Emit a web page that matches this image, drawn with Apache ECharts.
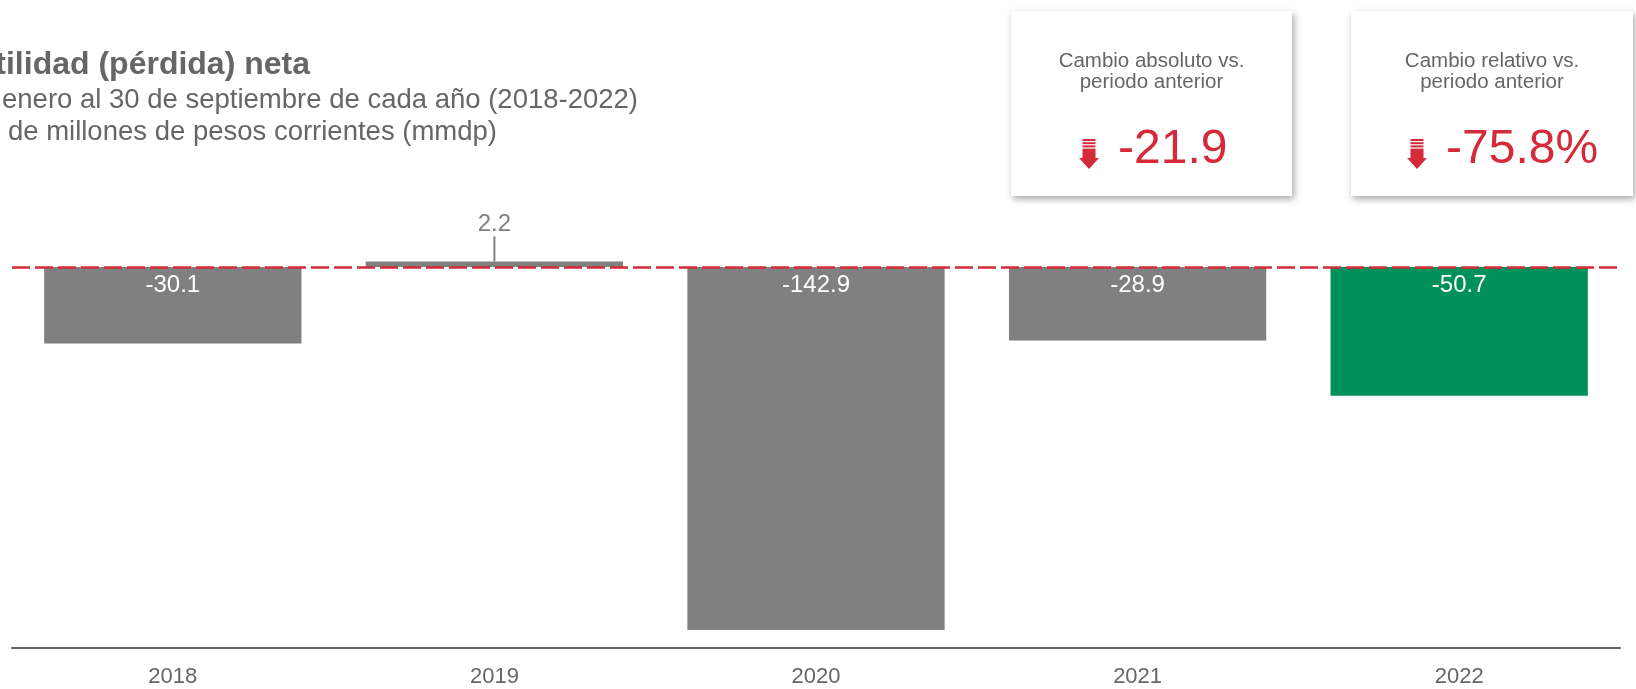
<!DOCTYPE html>
<html>
<head>
<meta charset="utf-8">
<script src="https://cdn.jsdelivr.net/npm/echarts@6/dist/echarts.min.js"></script>
<style>
html,body{margin:0;padding:0;background:#fff;}
#chart{width:1636px;height:689px;}
</style>
</head>
<body>
<div id="chart"></div>
<script>
// ---- data ----
const years = ['2018', '2019', '2020', '2021', '2022'];
const netIncome = [-30.1, 2.2, -142.9, -28.9, -50.7];
const absChange = -21.9;
const relChange = -75.8;
const yRange = [-150, 50];

const titleText = 'Utilidad (pérdida) neta';
const subtitleLines = [
  'Del 1 de enero al 30 de septiembre de cada año (2018-2022)',
  'Miles de millones de pesos corrientes (mmdp)'
];
const cardTitles = ['Cambio absoluto vs.\nperiodo anterior', 'Cambio relativo vs.\nperiodo anterior'];

// ---- styles ----
const FONT = '"Liberation Sans", Arial, Helvetica, sans-serif';
const GRAY = '#808080';
const GREEN = '#009059';
const RED = '#d42a3a';
const TEXT = '#666666';

const barData = netIncome.map((v, i) => ({
  value: v,
  itemStyle: { color: i === netIncome.length - 1 ? GREEN : GRAY },
  label: v < 0
    ? { position: 'insideTop', distance: 6, color: '#ffffff' }
    : { position: 'top', distance: 0, color: GRAY },
  labelLine: v < 0 ? { show: false } : { show: true, lineStyle: { color: GRAY, width: 2 } }
}));

function arrow(cx, top) {
  return {
    type: 'group', x: cx, y: top,
    children: [
      { type: 'rect', shape: { x: -6.5, y: 0, width: 13, height: 2 }, style: { fill: RED } },
      { type: 'rect', shape: { x: -6.5, y: 3.2, width: 13, height: 2 }, style: { fill: RED } },
      { type: 'rect', shape: { x: -6.5, y: 6.4, width: 13, height: 2 }, style: { fill: RED } },
      { type: 'rect', shape: { x: -6.5, y: 9.6, width: 13, height: 9.8 }, style: { fill: RED } },
      { type: 'polygon', shape: { points: [[-10, 19], [10, 19], [0, 30]] }, style: { fill: RED } }
    ]
  };
}

function card(x, w, title, valueText, arrowX, valueX) {
  return [
    { type: 'rect', shape: { x: x, y: 11, width: w, height: 185 },
      style: { fill: '#fff', shadowBlur: 7, shadowOffsetX: 2, shadowOffsetY: 3, shadowColor: 'rgba(0,0,0,0.35)' } },
    { type: 'text', x: x + w / 2, y: 71.5,
      style: { text: title, fill: TEXT, font: '20.5px ' + FONT, align: 'center', verticalAlign: 'middle', lineHeight: 21 } },
    arrow(arrowX, 139),
    { type: 'text', x: valueX, y: 150,
      style: { text: valueText, fill: RED, font: '48px ' + FONT, align: 'left', verticalAlign: 'middle' } }
  ];
}

const chart = echarts.init(document.getElementById('chart'));
chart.setOption({
  animation: false,
  textStyle: { fontFamily: FONT },
  grid: { left: 12, right: 16, top: 140, bottom: 41, containLabel: false },
  xAxis: {
    type: 'category',
    data: years,
    axisLine: { onZero: false, lineStyle: { color: TEXT, width: 2 } },
    axisTick: { show: false },
    axisLabel: { color: TEXT, fontSize: 22, margin: 18, fontFamily: FONT }
  },
  yAxis: {
    type: 'value', min: yRange[0], max: yRange[1],
    show: false, splitLine: { show: false }
  },
  series: [{
    type: 'bar',
    data: barData,
    barWidth: '80%',
    label: { show: true, fontSize: 24, fontFamily: FONT, formatter: p => p.value.toFixed(1) },
    labelLayout: p => (netIncome[p.dataIndex] >= 0 ? { dy: -25 } : {}),
    markLine: {
      silent: true, symbol: 'none', label: { show: false },
      lineStyle: { color: RED, type: [18, 5], width: 2.5 },
      data: [{ yAxis: 0 }]
    }
  }],
  graphic: [
    { type: 'text', x: 310, y: 65,
      style: { text: titleText, fill: TEXT, font: 'bold 32px ' + FONT, align: 'right', verticalAlign: 'middle' } },
    { type: 'text', x: 638, y: 100,
      style: { text: subtitleLines[0], fill: TEXT, font: '27.5px ' + FONT, align: 'right', verticalAlign: 'middle' } },
    { type: 'text', x: 497, y: 132,
      style: { text: subtitleLines[1], fill: TEXT, font: '27.5px ' + FONT, align: 'right', verticalAlign: 'middle' } }
  ].concat(
    card(1011, 281, cardTitles[0], absChange.toFixed(1), 1089, 1118),
    card(1351, 282, cardTitles[1], relChange.toFixed(1) + '%', 1417, 1446)
  )
});
</script>
</body>
</html>
